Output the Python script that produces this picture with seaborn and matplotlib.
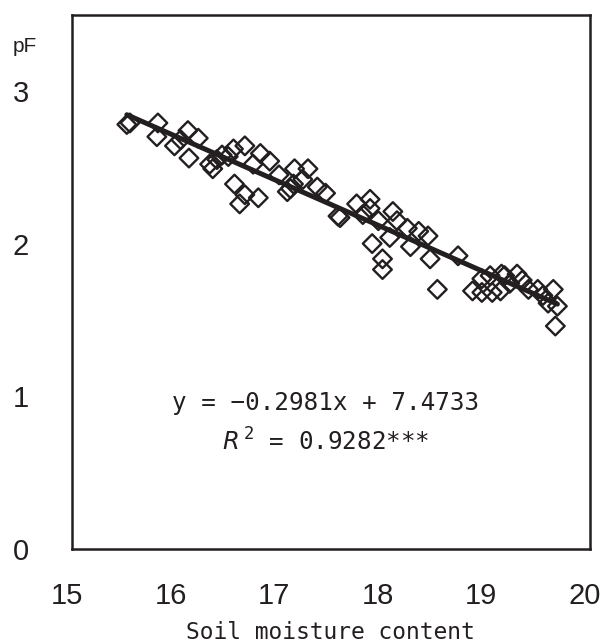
import numpy as np
import pandas as pd
import seaborn as sns
import matplotlib
matplotlib.use("Agg")
import matplotlib.pyplot as plt
import matplotlib.transforms as mtransforms

# ---- data ----
moisture = [15.53, 15.56, 15.83, 15.82, 16.12, 16.22, 15.99, 16.13, 16.33, 16.36,
            16.45, 16.56, 16.67, 16.82, 16.91, 16.75, 16.51, 16.57, 16.67, 16.62,
            16.80, 17.08, 17.11, 17.15, 17.28, 17.37, 17.14, 17.23, 17.57, 17.75,
            17.88, 17.88, 17.59, 18.10, 18.14, 18.24, 18.44, 17.90, 18.00, 18.00,
            18.07, 18.27, 18.46, 18.53, 17.96, 17.81, 18.73, 18.87, 18.96, 19.06,
            19.14, 18.96, 19.15, 19.30, 19.23, 19.41, 19.50, 19.65, 19.60, 19.69,
            19.67, 19.55, 19.04, 19.18, 16.40, 17.00, 16.05, 17.45, 18.35, 19.35]
pf = [2.78, 2.79, 2.79, 2.70, 2.74, 2.69, 2.64, 2.56, 2.52, 2.49,
      2.58, 2.62, 2.64, 2.59, 2.54, 2.52, 2.57, 2.39, 2.32, 2.26,
      2.30, 2.34, 2.36, 2.49, 2.49, 2.37, 2.39, 2.42, 2.18, 2.26,
      2.29, 2.23, 2.17, 2.21, 2.15, 2.10, 2.05, 2.00, 1.90, 1.83,
      2.04, 1.98, 1.90, 1.70, 2.15, 2.19, 1.92, 1.69, 1.68, 1.68,
      1.69, 1.77, 1.80, 1.80, 1.74, 1.70, 1.70, 1.70, 1.61, 1.59,
      1.46, 1.66, 1.79, 1.79, 2.55, 2.45, 2.68, 2.33, 2.08, 1.76]
slope = -0.2981
intercept = 7.4733
eq_text = "y = \u22120.2981x + 7.4733"
r2_text = "0.9282***"
x_ticks = [15, 16, 17, 18, 19, 20]
y_ticks = [0, 1, 2, 3]
x_label = "Soil moisture content"
y_label = "pF"

df = pd.DataFrame({"moisture": moisture, "pF": pf})
fit_x = [min(moisture), max(moisture)]
fit = pd.DataFrame({"moisture": fit_x,
                    "pF": [slope * v + intercept for v in fit_x]})

sns.set_theme(style="white")
plt.rcParams["font.family"] = ["Liberation Sans", "DejaVu Sans"]
plt.rcParams["mathtext.fontset"] = "custom"
plt.rcParams["mathtext.it"] = "DejaVu Sans:italic"
plt.rcParams["mathtext.rm"] = "DejaVu Sans Mono"

ink = "#231f20"
fig = plt.figure(figsize=(6.04, 6.43), dpi=100)
ax = fig.add_axes([0.1192, 0.1462, 0.976 - 0.1192, 0.9774 - 0.1462])

sns.scatterplot(data=df, x="moisture", y="pF", marker="D", s=90,
                facecolor="none", edgecolor=ink, linewidth=1.7, ax=ax, zorder=2)
sns.lineplot(data=fit, x="moisture", y="pF", color=ink, linewidth=3.6,
             ax=ax, zorder=3)

ax.set_xlim(15, 20)
ax.set_ylim(0, 3.5)
ax.set_xticks(x_ticks)
ax.set_yticks(y_ticks)
ax.set_xticklabels([str(t) for t in x_ticks])
ax.set_yticklabels([str(t) for t in y_ticks])
ax.tick_params(axis="both", direction="in", length=8.5, width=1.8,
               color=ink, labelsize=21, labelcolor=ink)
ax.tick_params(axis="x", pad=24)
ax.tick_params(axis="y", pad=31)
shift = mtransforms.ScaledTranslation(-5 / 100, 0, fig.dpi_scale_trans)
for lab in ax.get_xticklabels():
    lab.set_transform(lab.get_transform() + shift)
for s in ax.spines.values():
    s.set_linewidth(1.8)
    s.set_color(ink)
    s.set_visible(True)

ax.set_xlabel(x_label, family="DejaVu Sans Mono", fontsize=16.5, color=ink,
              labelpad=8)
ax.set_ylabel("")
fig.text(25 / 604, 1 - 46 / 643, y_label, ha="center", va="center",
         fontsize=15, color=ink)

ax.text(0.49, 0.273, eq_text, transform=ax.transAxes, ha="center",
        va="center", family="DejaVu Sans Mono", fontsize=17.5, color=ink)
ax.text(0.49, 0.200, r"$\mathit{R}^{\,\mathit{2}}$ = " + r2_text,
        transform=ax.transAxes, ha="center", va="center",
        family="DejaVu Sans Mono", fontsize=17.5, color=ink)

fig.savefig("out.png", dpi=100)
